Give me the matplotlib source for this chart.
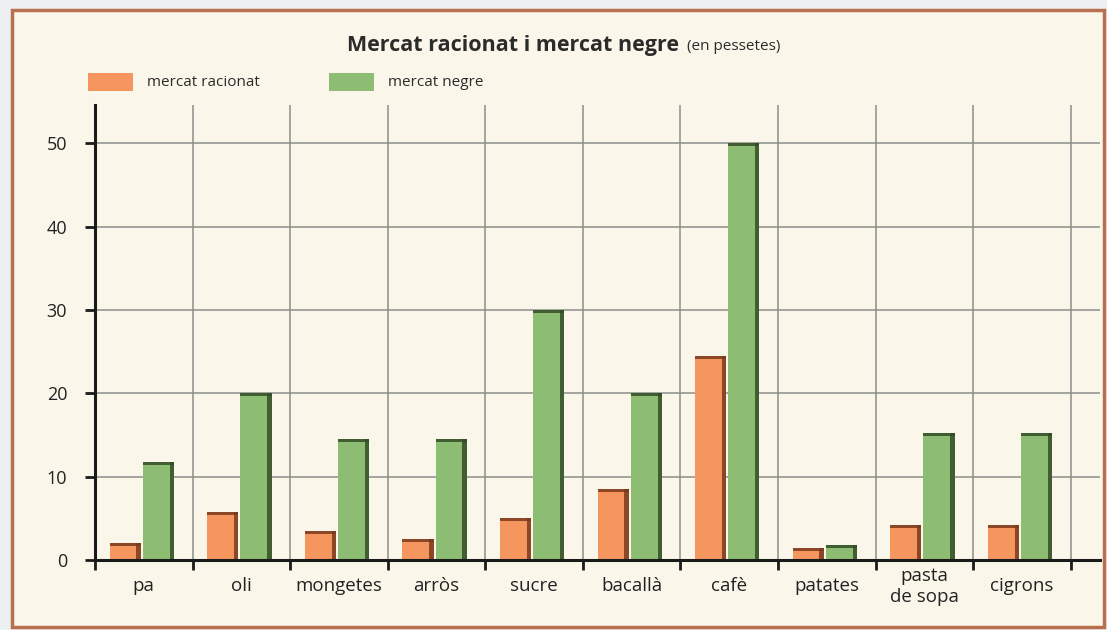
import numpy as np
import matplotlib.pyplot as plt
from matplotlib.patches import Rectangle

# values in pessetes
categories = ['pa', 'oli', 'mongetes', 'arròs', 'sucre', 'bacallà', 'cafè',
              'patates', 'pasta\nde sopa', 'cigrons']
racionat = [2, 5.75, 3.5, 2.5, 5, 8.5, 24.5, 1.4, 4.25, 4.25]
negre = [11.75, 20, 14.5, 14.5, 30, 20, 50, 1.75, 15.25, 15.25]
yticks = [0, 10, 20, 30, 40, 50]

plt.rcParams['font.family'] = ['Open Sans', 'DejaVu Sans']

W, H = 1107, 630
fig = plt.figure(figsize=(W / 100, H / 100), dpi=100)
fig.patch.set_facecolor('#EDF0F1')
# cream panel with brown frame
fig.patches.append(Rectangle((12 / W, 3 / H), (1104 - 12) / W, (620 - 3) / H,
                             transform=fig.transFigure, facecolor='#FAF7EA',
                             edgecolor='#B8704F', lw=2.5, zorder=-10))

ax = fig.add_axes([95 / W, 70 / H, (1100 - 95) / W, (560 - 105) / H])
ax.set_facecolor('none')
ax.set_zorder(1)

x = np.arange(len(categories))
w = 0.32
c_or, c_or_d = '#F5965F', '#7A3A1E'
c_gr, c_gr_d = '#8CBD73', '#334D26'
strip = 0.045

for xs, vals, c, cd in [(x - 0.19, racionat, c_or, c_or_d), (x + 0.15, negre, c_gr, c_gr_d)]:
    ax.bar(xs, vals, width=w, color=c, zorder=3)
    # dark right side and top edge of each bar
    ax.bar(xs + w / 2 - strip / 2, vals, width=strip, color=cd, alpha=0.85, zorder=4)
    ax.bar(xs, [0.35] * len(vals), bottom=np.array(vals) - 0.35, width=w, color=cd,
           alpha=0.85, zorder=4)

ax.set_xlim(-0.5, 9.8)
ax.set_ylim(0, 54.6)

ax.set_yticks(yticks)
ax.set_yticklabels([str(v) for v in yticks], fontsize=13, color='#222222')
ax.tick_params(axis='y', length=7, width=2, pad=13, color='#1a1a1a')

ax.set_xticks(x)
ax.set_xticklabels(categories, fontsize=13.5, color='#222222', linespacing=1.2)
ax.set_xticks(np.arange(-0.5, 10, 1), minor=True)
ax.tick_params(axis='x', which='major', length=0, pad=19)
ax.tick_params(axis='x', which='minor', length=7, width=2, color='#1a1a1a')
for lbl in ax.get_xticklabels():
    lbl.set_verticalalignment('center')

ax.grid(True, axis='y', which='major', color='#8c8c8c', lw=1.1, zorder=1)
ax.grid(True, axis='x', which='minor', color='#8c8c8c', lw=1.1, zorder=1)
ax.set_axisbelow(True)

for s in ['top', 'right']:
    ax.spines[s].set_visible(False)
for s in ['left', 'bottom']:
    ax.spines[s].set_linewidth(2.2)
    ax.spines[s].set_color('#1a1a1a')
    ax.spines[s].set_zorder(5)

# title
fig.text(347 / W, 1 - 45 / H, 'Mercat racionat i mercat negre', fontsize=15.5,
         fontweight='bold', color='#2b2b2b', va='center', ha='left')
fig.text(687 / W, 1 - 47 / H, '(en pessetes)', fontsize=11, color='#2b2b2b',
         va='center', ha='left')

# legend
for x0, c, lab in [(88, c_or, 'mercat racionat'), (329, c_gr, 'mercat negre')]:
    fig.patches.append(Rectangle((x0 / W, 1 - 91 / H), 45 / W, 18 / H,
                                 transform=fig.transFigure, facecolor=c,
                                 edgecolor='none', zorder=2))
    fig.text((x0 + 59) / W, 1 - 83 / H, lab, fontsize=11, color='#2b2b2b',
             va='center', ha='left')

fig.savefig('out.png', dpi=100, facecolor=fig.get_facecolor())
